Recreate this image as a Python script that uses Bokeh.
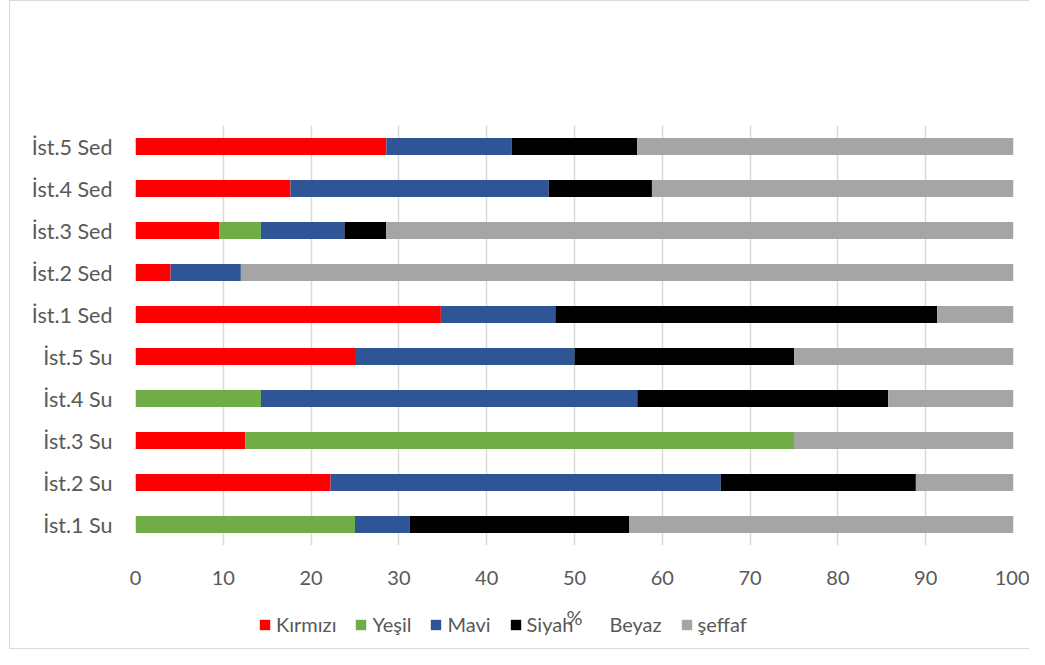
from bokeh.plotting import figure
from bokeh.layouts import column
from bokeh.models import Legend, LegendItem, FactorRange, Range1d, FixedTicker, Label
from bokeh.embed import file_html
from bokeh.resources import INLINE

categories = ["İst.1 Su", "İst.2 Su", "İst.3 Su", "İst.4 Su", "İst.5 Su",
              "İst.1 Sed", "İst.2 Sed", "İst.3 Sed", "İst.4 Sed", "İst.5 Sed"]
kirmizi = [0, 22.22, 12.5, 0, 25, 34.78, 4, 9.52, 17.65, 28.57]
yesil = [25, 0, 62.5, 14.29, 0, 0, 0, 4.76, 0, 0]
mavi = [6.25, 44.44, 0, 42.86, 25, 13.04, 8, 9.52, 29.41, 14.29]
siyah = [25, 22.22, 0, 28.57, 25, 43.48, 0, 4.76, 11.76, 14.29]
beyaz = [0, 0, 0, 0, 0, 0, 0, 0, 0, 0]
seffaf = [43.75, 11.11, 25, 14.29, 25, 8.70, 88, 71.43, 41.18, 42.86]

series_names = ["Kırmızı", "Yeşil", "Mavi", "Siyah", "Beyaz", "şeffaf"]
series_keys = ["kirmizi", "yesil", "mavi", "siyah", "beyaz", "seffaf"]
colors = ["#FF0000", "#70AD47", "#2F5597", "#000000", "#FFFFFF", "#A5A5A5"]
x_ticks = [0, 10, 20, 30, 40, 50, 60, 70, 80, 90, 100]
x_title = "%"

data = dict(cat=categories, kirmizi=kirmizi, yesil=yesil, mavi=mavi,
            siyah=siyah, beyaz=beyaz, seffaf=seffaf)

FONT = "Lato"
TXT = "#595959"
W = 1019
HA = 594
HB = 53
ML = 125
MR = 16

# ---- main chart ----
p = figure(width=W, height=HA, y_range=FactorRange(*categories, range_padding=0),
           x_range=Range1d(0, 100), output_backend="svg", toolbar_location=None,
           min_border_left=ML, min_border_right=MR, min_border_top=124,
           min_border_bottom=HA + 1 - 545)
p.outline_line_color = None

p.hbar_stack(series_keys, y="cat", height=0.4, color=colors, line_width=0, source=data)

p.xaxis.ticker = FixedTicker(ticks=x_ticks)
for ax in (p.xaxis, p.yaxis):
    ax.axis_line_color = None
    ax.major_tick_line_color = None
    ax.minor_tick_line_color = None
    ax.major_label_text_font = FONT
    ax.major_label_text_color = TXT
p.xaxis.major_label_text_font_size = "20px"
p.yaxis.major_label_text_font_size = "21.5px"
p.xaxis.major_label_standoff = 19
p.yaxis.major_label_standoff = 17

p.xgrid.grid_line_color = "#d9d9d9"
p.xgrid.grid_line_width = 1.5
p.ygrid.grid_line_color = None

# ---- legend strip (axis title + legend), same x scale as the chart ----
q = figure(width=W, height=HB, x_range=Range1d(0, 100), y_range=Range1d(0, HB),
           output_backend="svg", toolbar_location=None, min_border_left=ML,
           min_border_right=MR, min_border_top=0, min_border_bottom=0)
q.axis.visible = False
q.grid.visible = False
q.outline_line_color = None

# zero-width swatch carriers for the legend (nothing visible is drawn)
dummy = []
for c in colors:
    dummy.append(q.hbar(y=[-10], left=[0], right=[0], height=1, color=c, line_width=0))

q.add_layout(Label(x=50, y=HB - 21, text=x_title, text_font=FONT,
                   text_font_size="20px", text_color=TXT, text_align="center",
                   text_baseline="middle"))

items = [LegendItem(label=n, renderers=[r]) for n, r in zip(series_names, dummy)]
legend = Legend(items=items, orientation="horizontal", location=(123, 12),
                glyph_width=13, glyph_height=13, label_standoff=5, spacing=18,
                padding=0, margin=0, border_line_color=None,
                background_fill_alpha=0, label_text_font=FONT,
                label_text_font_size="20px", label_text_color=TXT,
                label_height=20)
q.add_layout(legend, "center")

layout = column(p, q, spacing=0,
                styles={"margin-left": "9px",
                        "border-left": "1px solid #d9d9d9",
                        "border-top": "1px solid #d9d9d9",
                        "border-bottom": "1px solid #d9d9d9"})

open("out.html", "w").write(file_html(layout, INLINE))
